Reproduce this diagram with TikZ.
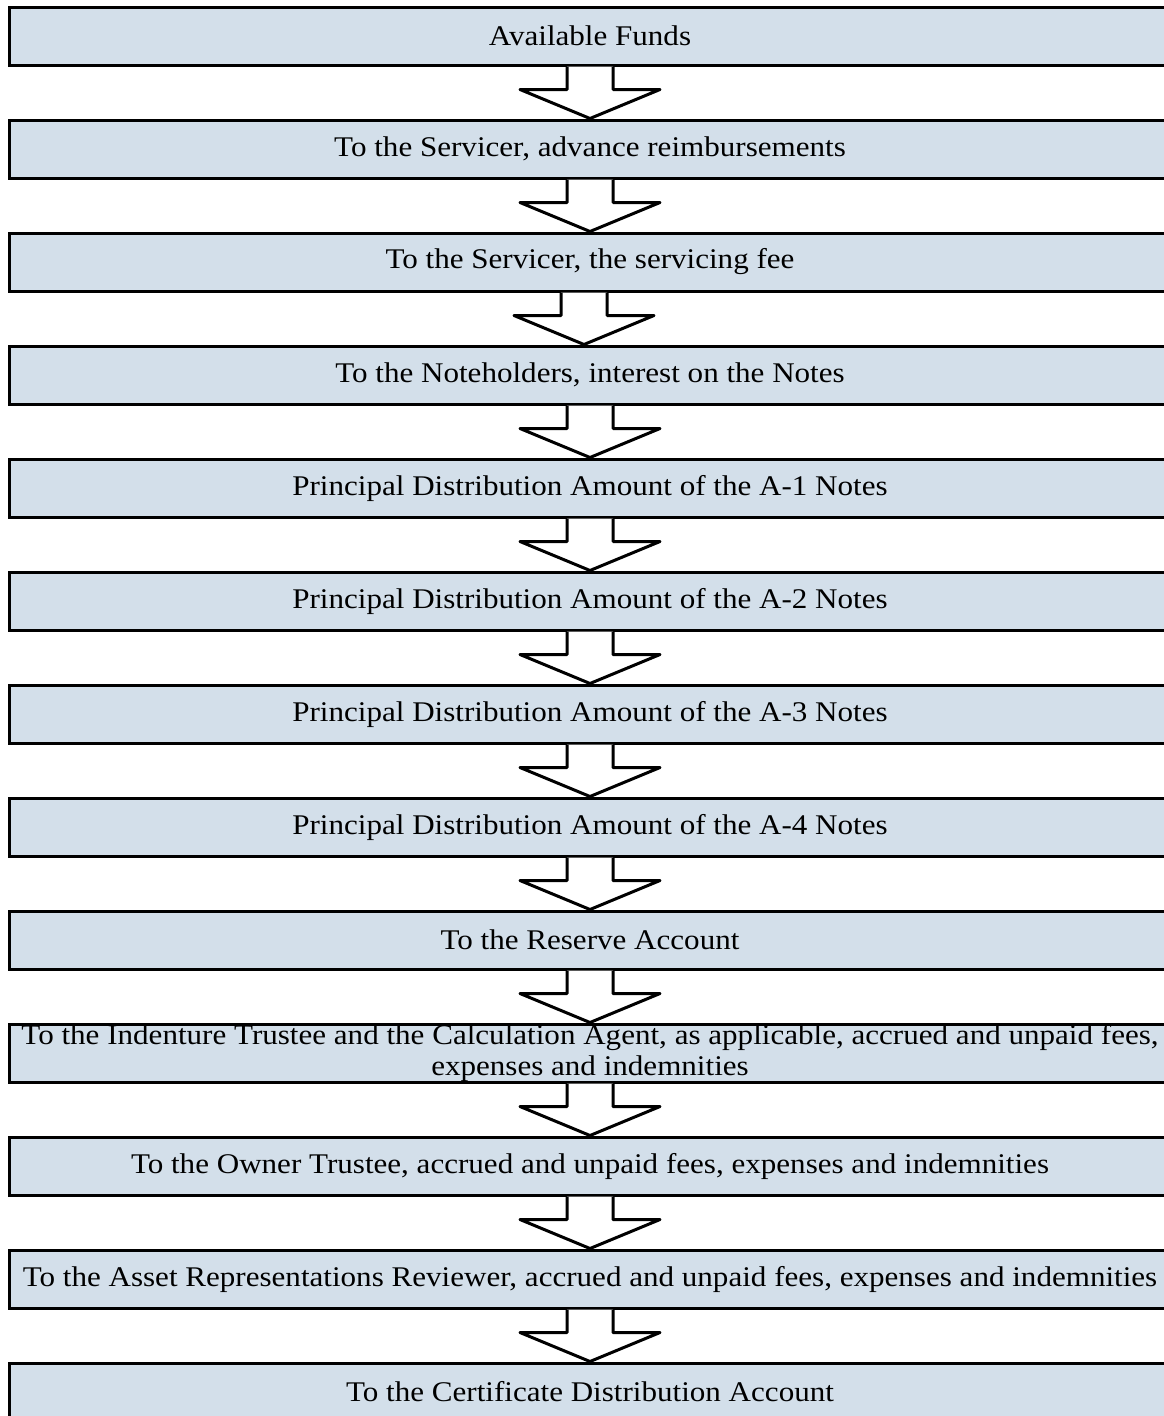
\documentclass[tikz,border=0pt]{standalone}
\usepackage{fontspec}
\setmainfont{Liberation Serif}[FakeStretch=1.09]
\usetikzlibrary{calc}
\definecolor{boxfill}{HTML}{D3DFEA}
\begin{document}
\begin{tikzpicture}[x=1pt,y=-1pt,
  box/.style={draw=black, line width=3pt, fill=boxfill, minimum width=1162pt, minimum height=58pt, inner sep=0pt, align=center, font=\fontsize{28.5}{31}\selectfont},
  blockarrow/.style={draw=black, fill=white, line width=3pt, line join=round}]
\useasboundingbox (0,0) rectangle (1164,1416);
\begin{scope}
\clip (0,0) rectangle (1164,1416);
\node[box] (b0) at (590,36) {Available Funds};
\node[box] (b1) at (590,149) {To the Servicer, advance reimbursements};
\node[box] (b2) at (590,262) {To the Servicer, the servicing fee};
\node[box] (b3) at (590,375) {To the Noteholders, interest on the Notes};
\node[box] (b4) at (590,488) {Principal Distribution Amount of the A-1 Notes};
\node[box] (b5) at (590,601) {Principal Distribution Amount of the A-2 Notes};
\node[box] (b6) at (590,714) {Principal Distribution Amount of the A-3 Notes};
\node[box] (b7) at (590,827) {Principal Distribution Amount of the A-4 Notes};
\node[box] (b8) at (590,940) {To the Reserve Account};
\node[box] (b9) at (590,1053) {To the Indenture Trustee and the Calculation Agent, as applicable, accrued and unpaid fees,\\expenses and indemnities};
\node[box] (b10) at (590,1166) {To the Owner Trustee, accrued and unpaid fees, expenses and indemnities};
\node[box] (b11) at (590,1279) {To the Asset Representations Reviewer, accrued and unpaid fees, expenses and indemnities};
\node[box] (b12) at (590,1392) {To the Certificate Distribution Account};
\foreach \i/\j/\dx in {0/1/0,1/2/0,2/3/-6,3/4/0,4/5/0,5/6/0,6/7/0,7/8/0,8/9/0,9/10/0,10/11/0,11/12/0}{
  \draw[blockarrow] ($(b\i.south)+(\dx-23,0)$) -- ($(b\i.south)+(\dx-23,23)$) -- ($(b\i.south)+(\dx-70,23)$)
    -- ($(b\j.north)+(\dx,0)$) -- ($(b\i.south)+(\dx+70,23)$) -- ($(b\i.south)+(\dx+23,23)$) -- ($(b\i.south)+(\dx+23,0)$);
}
\end{scope}
\end{tikzpicture}
\end{document}
